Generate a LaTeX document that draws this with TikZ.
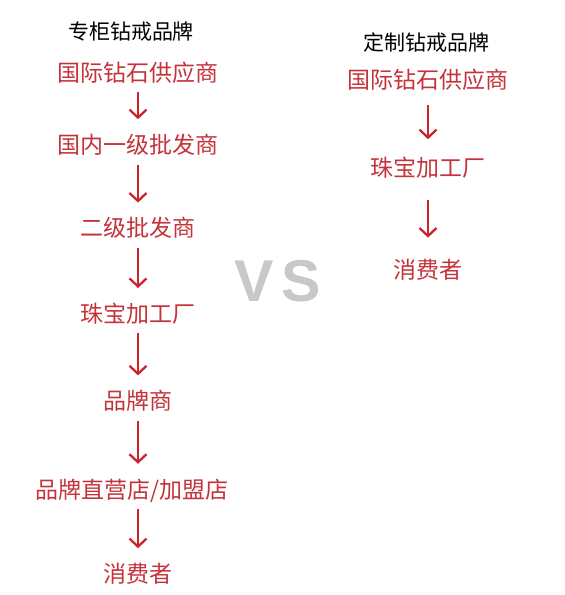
\documentclass[tikz,border=0pt]{standalone}
\usepackage{fontspec}
\newfontfamily\cjkfont{Noto Sans CJK SC}
\newfontfamily\vsfont{Liberation Sans}
\usetikzlibrary{arrows.meta,positioning}
\definecolor{chainred}{RGB}{196,50,58}
\definecolor{arrowred}{RGB}{204,36,44}
\definecolor{vsgray}{RGB}{200,200,200}

\begin{document}
\begin{tikzpicture}[x=1pt, y=1pt,
    stage/.style={font=\cjkfont\fontsize{23}{23}\selectfont, text=chainred,
                  inner sep=0pt, text height=19pt, text depth=3pt},
    heading/.style={font=\cjkfont\fontsize{21}{21}\selectfont, inner sep=0pt},
    flow/.style={-{Straight Barb[length=8pt,width=17pt]}, line width=2.3pt,
                 color=arrowred, shorten <=8pt, shorten >=15pt}
]
\useasboundingbox (0,0) rectangle (565,-595);

%% Counter brand chain
\node[heading] (lhead) at (131,-32) {专柜钻戒品牌};
\node[stage] (lsupplier) at (138,-73) {国际钻石供应商};
\node[stage, below=50pt of lsupplier] (lwhole1) {国内一级批发商};
\node[stage, below=61pt of lwhole1] (lwhole2) {二级批发商};
\node[stage, below=63pt of lwhole2] (lfactory) {珠宝加工厂};
\node[stage, below=65pt of lfactory] (lbrand) {品牌商};
\node[stage, below=66pt of lbrand, xshift=-6pt] (lstore) {品牌直营店/加盟店};
\node[stage, below=62pt of lstore, xshift=6pt] (lbuyer) {消费者};

%% Custom brand chain
\node[heading] (rhead) at (426,-42) {定制钻戒品牌};
\node[stage] (rsupplier) at (428,-80) {国际钻石供应商};
\node[stage, below=66pt of rsupplier] (rfactory) {珠宝加工厂};
\node[stage, below=80pt of rfactory] (rbuyer) {消费者};

%% VS
\node[font=\vsfont\bfseries\fontsize{59}{59}\selectfont, text=vsgray, inner sep=0pt]
     (vs) at (278,-281) {V\hspace{8pt}S};

%% Arrows
\draw[flow] (lsupplier) -- (lwhole1);
\draw[flow] (lwhole1) -- (lwhole2);
\draw[flow] (lwhole2) -- (lfactory);
\draw[flow] (lfactory) -- (lbrand);
\draw[flow] (lbrand) -- (lstore.north -| lbrand);
\draw[flow] (lstore.south -| lbuyer) -- (lbuyer);
\draw[flow, shorten <=14pt, shorten >=18pt] (rsupplier) -- (rfactory);
\draw[flow, shorten <=20pt, shorten >=22pt] (rfactory) -- (rbuyer);

\end{tikzpicture}
\end{document}
